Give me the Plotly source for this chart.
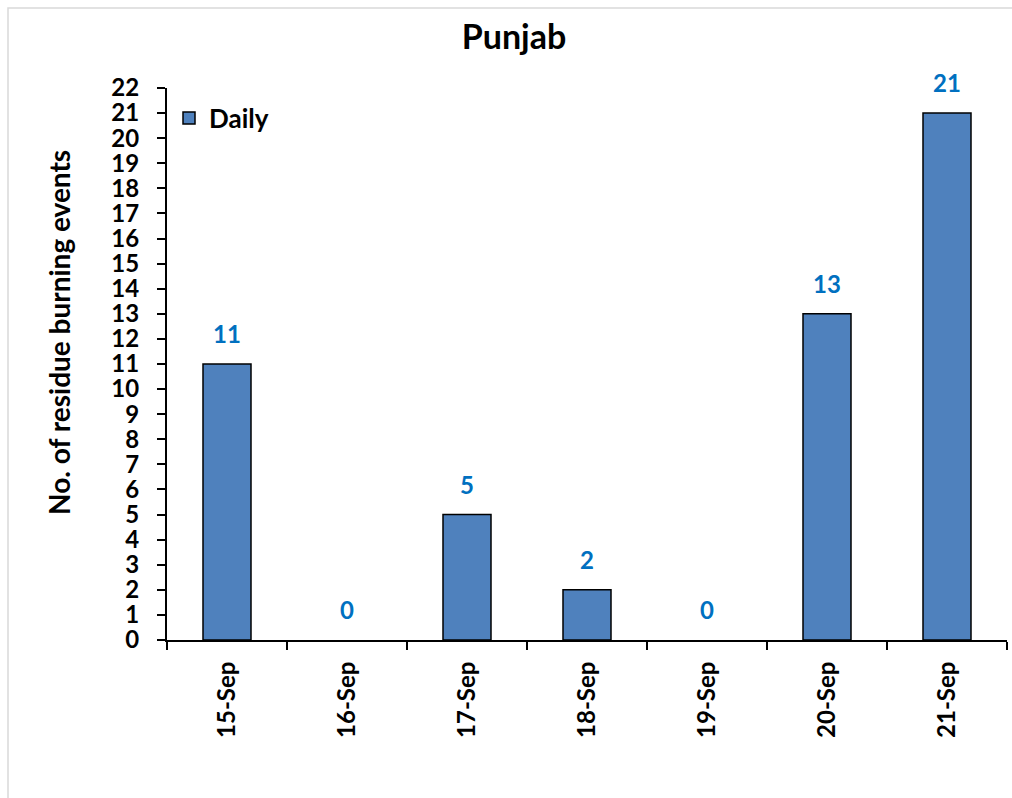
import plotly.graph_objects as go

dates = ["15-Sep", "16-Sep", "17-Sep", "18-Sep", "19-Sep", "20-Sep", "21-Sep"]
daily = [11, 0, 5, 2, 0, 13, 21]
y_ticks = list(range(0, 23))

FONT = "Lato"
W, H = 1012, 798
L, R, T, B = 167, 5, 88, 158
pw, ph = W - L - R, H - T - B

fig = go.Figure()
fig.add_trace(go.Bar(
    x=dates, y=daily, name="<b>Daily</b>", width=0.4,
    marker=dict(color="#4F81BD",
                line=dict(color="black", width=[1.5 if v > 0 else 0 for v in daily])),
))

for d, v in zip(dates, daily):
    fig.add_annotation(x=d, y=v, text=f"<b>{v}</b>", showarrow=False,
                       yanchor="bottom", yshift=14,
                       font=dict(family=FONT, size=24, color="#0070C0"))

# y-axis title
fig.add_annotation(xref="paper", yref="paper", x=(40 - L) / pw, y=(H - B - 333) / ph,
                   text="<b>No. of residue burning events</b>", textangle=-90,
                   showarrow=False, font=dict(family=FONT, size=28, color="black"))

# chart area border
fig.add_shape(type="rect", xref="paper", yref="paper",
              x0=(8 - L) / pw, x1=(W + 5 - L) / pw,
              y0=(H - B - (H + 5)) / ph, y1=(H - B - 8) / ph,
              line=dict(color="#D9D9D9", width=1.5), fillcolor="rgba(0,0,0,0)", layer="below")

fig.update_layout(
    width=W, height=H,
    margin=dict(l=L, r=R, t=T, b=B),
    paper_bgcolor="white", plot_bgcolor="white",
    title=dict(text="<b>Punjab</b>", x=514 / W, xref="container", xanchor="center",
               y=1 - 37 / H, yref="container", yanchor="middle",
               font=dict(family=FONT, size=34, color="black")),
    showlegend=True,
    legend=dict(x=(169 - L) / pw, y=(H - B - 118) / ph, xanchor="left", yanchor="middle",
                font=dict(family=FONT, size=26, color="black"), bgcolor="rgba(0,0,0,0)",
                itemwidth=30),
    xaxis=dict(type="category", showline=True, linecolor="black", linewidth=2,
               ticks="outside", tickson="boundaries", ticklen=8, tickwidth=2, tickcolor="black",
               tickangle=-90, tickfont=dict(family=FONT, size=24, color="black"),
               tickvals=dates, ticktext=[f"<b>{d}</b>" for d in dates],
               ticklabelstandoff=10, showgrid=False, zeroline=False,
               range=[-0.5, len(dates) - 0.5]),
    yaxis=dict(range=[0, 22], tickvals=y_ticks, ticktext=[f"<b>{v}</b>" for v in y_ticks],
               showline=True, linecolor="black", linewidth=2,
               ticks="outside", ticklen=8, tickwidth=2, tickcolor="black",
               tickfont=dict(family=FONT, size=24, color="black"),
               ticklabelstandoff=13, showgrid=False, zeroline=False),
)

fig.write_html("out.html", config={"displayModeBar": False},
               post_script="document.body.style.margin='0';document.body.style.overflow='hidden';")
